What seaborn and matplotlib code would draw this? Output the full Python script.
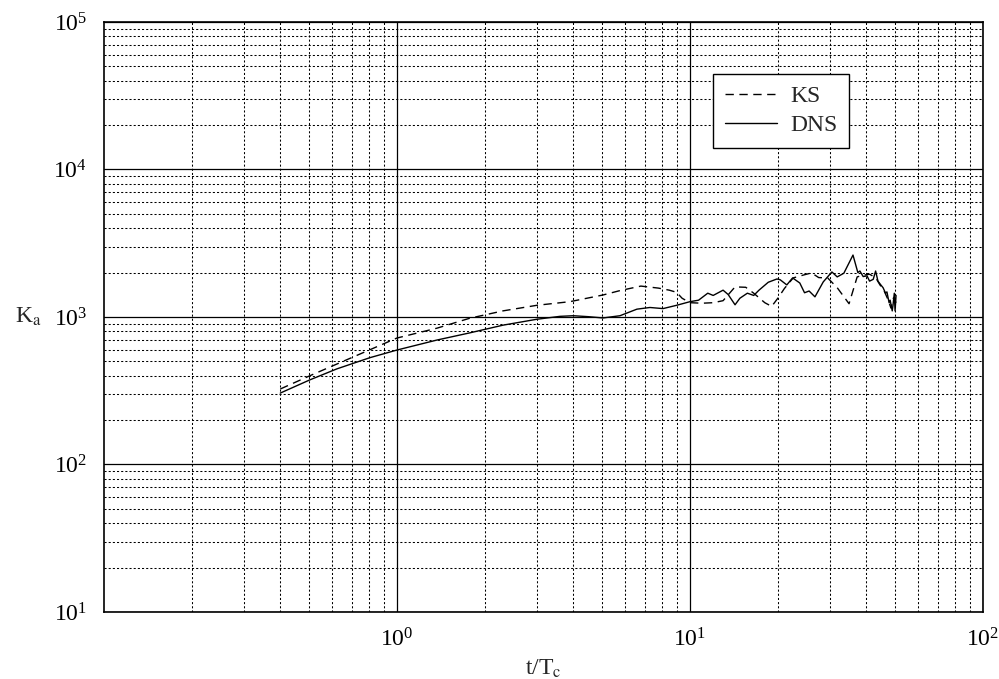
import numpy as np
import pandas as pd
import matplotlib
matplotlib.use("Agg")
import matplotlib.pyplot as plt
import seaborn as sns
from matplotlib.ticker import LogLocator, LogFormatterMathtext, NullFormatter

# ---- data ----
dns_t = [0.40, 0.505, 0.624, 0.809, 1.0, 1.37, 1.77, 2.30, 3.0, 3.6, 4.0, 4.5, 5.05,
         5.77, 6.59, 7.3, 8.09, 9.0, 10.0, 10.7, 11.5, 12.0, 12.97, 13.5, 14.25, 14.8,
         15.7, 16.5, 17.2, 18.5, 19.8, 20.3, 21.4, 22.4, 23.7, 24.6, 25.5, 26.7, 28.5,
         30.5, 31.8, 33.5, 36.0, 37.4, 38.0, 39.0, 40.2, 41.0, 42.2, 43.0, 43.8, 44.8,
         45.6, 46.5, 47.0, 47.8, 48.2, 49.0, 49.3, 49.8, 50.1, 50.5]
dns_k = [305, 375, 445, 530, 597, 698, 780, 880, 965, 1010, 1020, 1005, 985,
         1020, 1130, 1160, 1140, 1200, 1270, 1300, 1450, 1400, 1520, 1420, 1210, 1340,
         1450, 1400, 1520, 1720, 1810, 1790, 1650, 1840, 1700, 1460, 1500, 1370, 1730,
         2020, 1870, 1980, 2630, 2000, 2050, 1880, 1900, 1750, 1800, 2050, 1750, 1650,
         1580, 1450, 1480, 1250, 1300, 1100, 1200, 1450, 1100, 1400]

ks_t = [0.40, 0.505, 0.624, 0.809, 1.0, 1.37, 1.77, 2.30, 3.0, 3.89, 5.05, 5.77, 6.8,
        7.8, 8.5, 9.0, 9.4, 10.0, 11.0, 12.0, 12.97, 14.25, 15.5, 16.5, 18.0, 19.0,
        20.0, 21.0, 22.5, 24.5, 26.0, 27.5, 29.5, 31.8, 34.9, 37.2, 39.0, 41.0, 43.0,
        44.5, 46.0, 47.5, 48.5, 49.5, 50.5]
ks_k = [325, 400, 480, 600, 720, 840, 980, 1100, 1200, 1270, 1410, 1510, 1620,
        1570, 1520, 1470, 1340, 1250, 1240, 1250, 1290, 1600, 1590, 1450, 1250, 1180,
        1350, 1560, 1840, 1930, 1990, 1850, 1840, 1580, 1230, 1870, 1920, 1950, 1850,
        1650, 1500, 1300, 1150, 1350, 1250]

series_names = ["KS", "DNS"]
x_label = "t/T$_\\mathrm{c}$"
y_label = "K$_\\mathrm{a}$"

sns.set_style("white")
plt.rcParams["font.family"] = ["Liberation Serif", "DejaVu Serif"]
plt.rcParams["mathtext.fontset"] = "stix"

df = pd.concat([
    pd.DataFrame({"t": ks_t, "K": ks_k, "model": series_names[0]}),
    pd.DataFrame({"t": dns_t, "K": dns_k, "model": series_names[1]}),
])

fig = plt.figure(figsize=(9.99, 6.79), dpi=100)
ax = fig.add_axes([0.104, 0.0987, 0.880, 0.8689])

sns.lineplot(data=df, x="t", y="K", hue="model", style="model",
             palette={"KS": "black", "DNS": "black"},
             dashes={"KS": (6, 4), "DNS": ""},
             linewidth=1.0, sort=False, estimator=None, ax=ax)

ax.set_xscale("log")
ax.set_yscale("log")
ax.set_xlim(0.1, 100)
ax.set_ylim(10, 1e5)

ax.xaxis.set_minor_locator(LogLocator(base=10, subs=np.arange(2, 10), numticks=100))
ax.yaxis.set_major_locator(LogLocator(base=10, numticks=10))
ax.yaxis.set_minor_locator(LogLocator(base=10, subs=np.arange(2, 10), numticks=100))
ax.xaxis.set_minor_formatter(NullFormatter())
ax.yaxis.set_minor_formatter(NullFormatter())
ax.set_xticks([1, 10, 100])
ax.xaxis.set_major_formatter(LogFormatterMathtext())
ax.yaxis.set_major_formatter(LogFormatterMathtext())

ax.grid(which="major", color="black", linestyle="-", linewidth=0.9)
ax.grid(which="minor", color="black", linestyle=(0, (2, 2)), linewidth=0.75)
ax.set_axisbelow(True)

for sp in ax.spines.values():
    sp.set_color("black")
    sp.set_linewidth(1.2)

ax.tick_params(which="both", length=0, labelsize=17, colors="black")
ax.tick_params(axis="x", pad=12)
ax.tick_params(axis="y", pad=12)

ax.set_xlabel(x_label, fontsize=17, labelpad=4)
ax.set_ylabel(y_label, fontsize=17, rotation=0, labelpad=18, va="center")

handles, labels = ax.get_legend_handles_labels()
leg = ax.legend(handles, labels, loc="upper left", bbox_to_anchor=(0.693, 0.912),
                borderaxespad=0, frameon=True, fancybox=False, framealpha=1,
                edgecolor="black", fontsize=17, handlelength=2.2, borderpad=0.5,
                labelspacing=0.3, handletextpad=0.55, title=None)
leg.get_frame().set_linewidth(1.0)

fig.savefig("out.png", dpi=100)
